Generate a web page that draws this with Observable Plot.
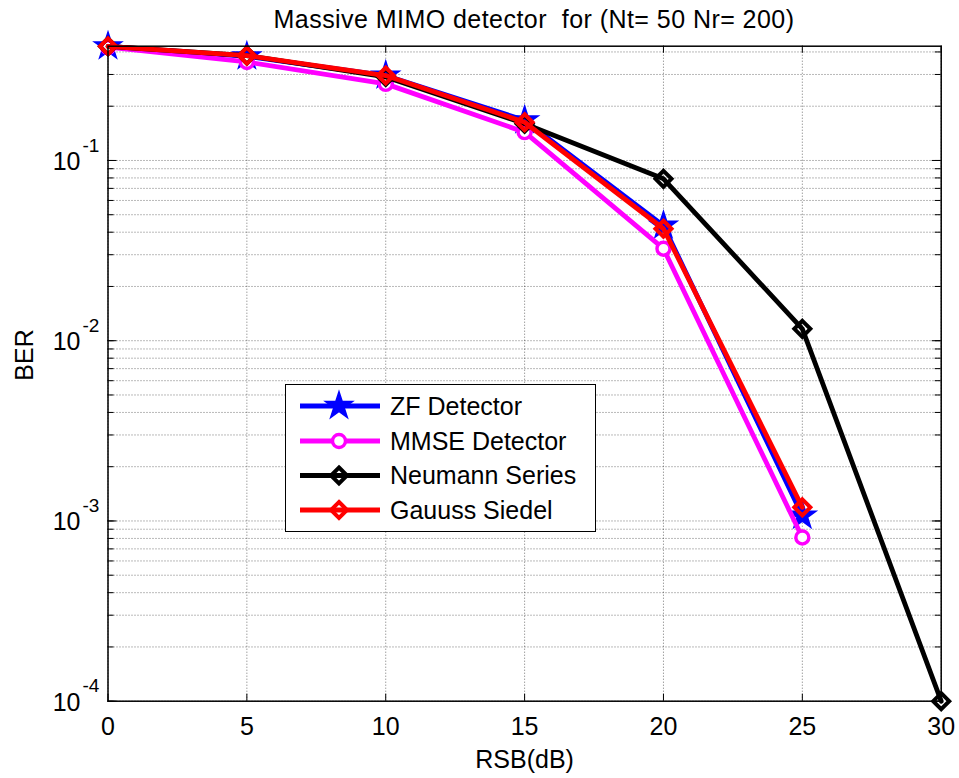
<!DOCTYPE html>
<html>
<head>
<meta charset="utf-8">
<script src="https://cdn.jsdelivr.net/npm/d3@7"></script>
<script src="https://cdn.jsdelivr.net/npm/@observablehq/plot@0.6"></script>
<style>
  body { margin: 0; background: white; font-family: "Liberation Sans", Arial, sans-serif; }
  #wrap { position: relative; width: 959px; height: 778px; background: white; }
  #title { height: 38px; line-height: 38px; font-size: 25px; text-align: center; padding-left: 109px; letter-spacing: 0.45px; white-space: pre; color: #000; }
  #legend { position: absolute; left: 285px; top: 384px; width: 309px; height: 146px; border: 1.5px solid #000; background: white; }
</style>
</head>
<body>
<div id="wrap">
  <div id="title"></div>
  <div id="chart"></div>
  <div id="legend"></div>
</div>
<script>
// ---- data ----
const titleText = "Massive MIMO detector  for (Nt= 50 Nr= 200)";
const xLabel = "RSB(dB)";
const yLabel = "BER";
const snr = [0, 5, 10, 15, 20, 25, 30];
const zfBER = [0.430, 0.378, 0.296, 0.167, 0.0435, 0.00107];
const mmseBER = [0.425, 0.352, 0.266, 0.1436, 0.0324, 0.00081];
const neumannBER = [0.430, 0.382, 0.291, 0.160, 0.0791, 0.01164, 0.0001];
const gsBER = [0.430, 0.382, 0.296, 0.163, 0.0418, 0.00119];
const seriesNames = ["ZF Detector", "MMSE Detector", "Neumann Series", "Gauuss Siedel"];
const seriesColors = ["#0000ff", "#ff00ff", "#000000", "#ff0000"];
const xTicks = [0, 5, 10, 15, 20, 25, 30];
const xTickLabels = ["0", "5", "10", "15", "20", "25", "30"];
const yTicks = [1e-4, 1e-3, 1e-2, 1e-1];
const yTickBase = ["10", "10", "10", "10"];
const yTickExp = ["-4", "-3", "-2", "-1"];
const yDomain = [1e-4, 0.4305];

document.getElementById("title").textContent = titleText;

const W = 959, H = 740;
const mt = 7.7, mr = 18.3, mb = 77.3, ml = 107.5;
const plotW = W - ml - mr, plotH = H - mt - mb;

const seriesData = [zfBER, mmseBER, neumannBER, gsBER].map((vals, i) =>
  vals.map((v, j) => ({x: snr[j], y: v, s: seriesNames[i]})));

const yMinor = d3.scaleLog().domain(yDomain).ticks().filter(v => v >= yDomain[0] && v <= yDomain[1]);

const markerSpecs = [
  {symbol: "star", r: 8.5, fill: seriesColors[0], stroke: seriesColors[0], strokeWidth: 1.5},
  {symbol: "circle", r: 6.5, fill: "white", stroke: seriesColors[1], strokeWidth: 3.4},
  {symbol: "diamond2", r: 7.2, fill: "none", stroke: seriesColors[2], strokeWidth: 4},
  {symbol: "diamond2", r: 7.2, fill: "none", stroke: seriesColors[3], strokeWidth: 4}
];

const gridStyle = {stroke: "#000", strokeOpacity: 0.55, strokeDasharray: "1,2", strokeWidth: 1};
const fontSize = 25;

const marks = [
  Plot.ruleY(yMinor, {y: d => d, ...gridStyle}),
  Plot.ruleX(xTicks, {x: d => d, ...gridStyle}),
  // ticks (inside, MATLAB style)
  Plot.tickX(xTicks, {x: d => d, insetTop: plotH - 7, stroke: "#000", strokeWidth: 1}),
  Plot.tickX(xTicks, {x: d => d, insetBottom: plotH - 7, stroke: "#000", strokeWidth: 1}),
  Plot.tickY(yMinor, {y: d => d, insetRight: plotW - 6, stroke: "#000", strokeWidth: 1}),
  Plot.tickY(yMinor, {y: d => d, insetLeft: plotW - 6, stroke: "#000", strokeWidth: 1}),
  Plot.tickY(yTicks, {y: d => d, insetRight: plotW - 9, stroke: "#000", strokeWidth: 1}),
  Plot.tickY(yTicks, {y: d => d, insetLeft: plotW - 9, stroke: "#000", strokeWidth: 1}),
];

seriesData.forEach((data, i) => {
  marks.push(Plot.line(data, {x: "x", y: "y", stroke: seriesColors[i], strokeWidth: 4.8, strokeLinejoin: "round"}));
  const m = markerSpecs[i];
  marks.push(Plot.dot(data, {x: "x", y: "y", symbol: () => m.symbol, r: m.r, fill: m.fill, stroke: m.stroke, strokeWidth: m.strokeWidth}));
});

marks.push(
  Plot.frame({stroke: "#000", strokeWidth: 1.5}),
  Plot.text(xTicks, {x: d => d, text: (d, i) => xTickLabels[i], frameAnchor: "bottom", dy: 26, lineAnchor: "middle", fontSize, fill: "#000"}),
  Plot.text(yTicks, {y: d => d, text: (d, i) => yTickBase[i], frameAnchor: "left", dx: -27.5, dy: 1.5, textAnchor: "end", lineAnchor: "middle", fontSize, fill: "#000"}),
  Plot.text(yTicks, {y: d => d, text: (d, i) => yTickExp[i], frameAnchor: "left", dx: -25.5, dy: -15, textAnchor: "start", lineAnchor: "middle", fontSize: 19, fill: "#000"}),
  Plot.text([xLabel], {text: d => d, frameAnchor: "bottom", dy: 59, lineAnchor: "middle", fontSize, fill: "#000"}),
  Plot.text([yLabel], {text: d => d, frameAnchor: "left", dx: -83.5, dy: 7, rotate: -90, lineAnchor: "middle", fontSize, fill: "#000"})
);

const chart = Plot.plot({
  width: W, height: H,
  marginTop: mt, marginRight: mr, marginBottom: mb, marginLeft: ml,
  style: {overflow: "visible", background: "transparent", fontFamily: "'Liberation Sans', Arial, sans-serif"},
  x: {domain: [0, 30], axis: null},
  y: {type: "log", domain: yDomain, axis: null},
  marks
});
document.getElementById("chart").appendChild(chart);

// ---- legend ----
const legSvg = d3.select("#legend").append("svg").attr("width", 309).attr("height", 146);
const rowY = [21, 56, 90.5, 125];
seriesNames.forEach((name, i) => {
  const g = legSvg.append("g").attr("transform", `translate(0,${rowY[i]})`);
  g.append("line").attr("x1", 14).attr("x2", 94).attr("y1", 0).attr("y2", 0)
    .attr("stroke", seriesColors[i]).attr("stroke-width", 4.8);
  const m = markerSpecs[i];
  const symType = {star: d3.symbolStar, circle: d3.symbolCircle, diamond2: d3.symbolDiamond2}[m.symbol];
  g.append("path").attr("transform", "translate(53,0)")
    .attr("d", d3.symbol(symType, Math.PI * m.r * m.r)())
    .attr("fill", m.fill).attr("stroke", m.stroke).attr("stroke-width", m.strokeWidth);
  g.append("text").attr("x", 104).attr("y", 0).attr("dy", "0.35em")
    .attr("font-size", 25).attr("font-family", "'Liberation Sans', Arial, sans-serif")
    .attr("fill", "#000").text(name);
});
</script>
</body>
</html>
